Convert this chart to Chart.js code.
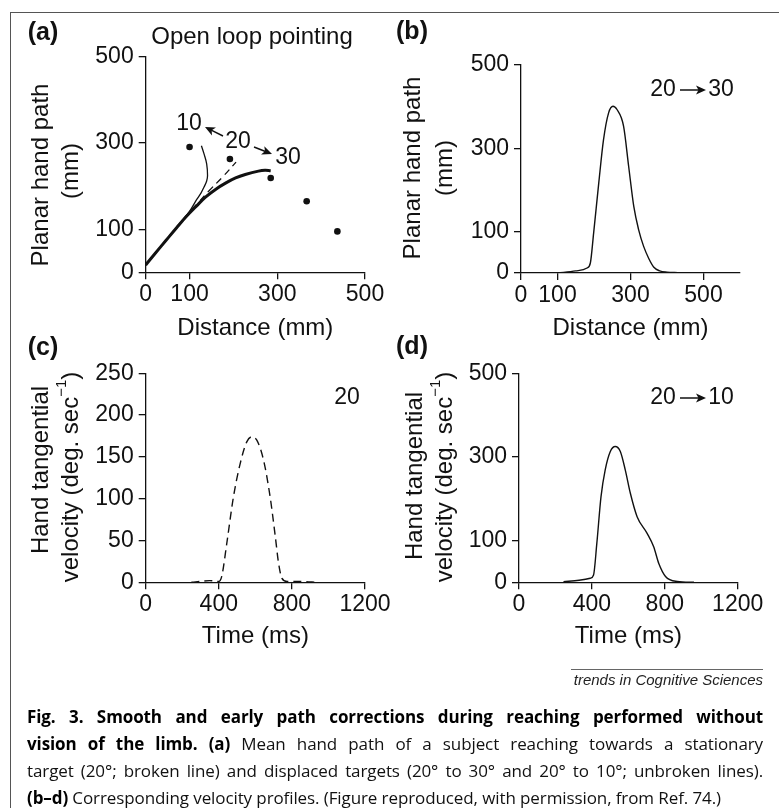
<!DOCTYPE html>
<html>
<head>
<meta charset="utf-8">
<script src="https://cdn.jsdelivr.net/npm/chart.js@4.4.1/dist/chart.umd.min.js"></script>
<style>
    html, body { margin: 0; padding: 0; background: #fff; }
    #page { position: relative; width: 779px; height: 808px; overflow: hidden; }
    #frame { position: absolute; left: 10px; top: 12px; width: 800px; height: 820px;
             border-top: 1.5px solid #555; border-left: 1.5px solid #555; }
    canvas { position: absolute; left: 0; top: 0; }
    #source { position: absolute; right: 16px; top: 669px; font: italic 15px "Liberation Sans", Arial, sans-serif;
              color: #222; border-top: 1.5px solid #666; padding-top: 1px; line-height: 17px; padding-left: 3px; }
    #caption { position: absolute; left: 27px; top: 703px; width: 736px;
               font: 17px "Open Sans", "Noto Sans", sans-serif; letter-spacing: -0.1px;
               color: #111; line-height: 27px; }
    #caption div { white-space: nowrap; text-align: justify; text-align-last: justify; }
    #caption div.last { text-align-last: left; }
    #caption b { color: #000; }
</style>
</head>
<body>
<div id="page">
    <div id="frame"></div>
    <canvas id="chartA" width="779" height="808"></canvas>
    <canvas id="chartB" width="779" height="808"></canvas>
    <canvas id="chartC" width="779" height="808"></canvas>
    <canvas id="chartD" width="779" height="808"></canvas>
    <div id="source">trends in Cognitive Sciences</div>
    <div id="caption">
        <div><b>Fig. 3. Smooth and early path corrections during reaching performed without</b></div>
        <div><b>vision of the limb. (a)</b> Mean hand path of a subject reaching towards a stationary</div>
        <div>target (20°; broken line) and displaced targets (20° to 30° and 20° to 10°; unbroken lines).</div>
        <div class="last"><b>(b–d)</b> Corresponding velocity profiles. (Figure reproduced, with permission, from Ref. 74.)</div>
    </div>
</div>
<script>
'use strict';

// (a) hand paths, mm
const targetX = [100, 192, 285, 367, 437];
const targetY = [291, 263, 219, 165, 95];
const path30X = [0, 20, 47, 70, 92, 115, 137, 160, 182, 205, 227, 257, 272, 285];
const path30Y = [17, 42, 75, 103, 129, 153, 175, 193, 207, 219, 227, 235, 237, 236];
const path10X = [0, 20, 47, 70, 88, 104, 115, 126, 133, 139, 141, 139, 133, 127];
const path10Y = [17, 42, 75, 103, 125, 148, 167, 184, 198, 212, 225, 252, 275, 294];
const path20X = [0, 20, 47, 70, 92, 120, 145, 175, 206];
const path20Y = [17, 42, 76, 104, 131, 162, 190, 221, 256];

// (b) 20 -> 30 profile
const dist30 = [100, 150, 181, 190, 199, 213, 226, 240, 252, 263, 281, 295, 309, 322, 336, 350, 364, 380, 400, 430, 465];
const vel30 = [0, 5, 12, 24, 96, 216, 320, 385, 401, 393, 353, 256, 160, 105, 64, 35, 14, 5, 2, 1, 0];

// (c) stationary 20 profile
const time20 = [250, 300, 350, 400, 416, 444, 480, 517, 553, 581, 608, 645, 681, 709, 727, 745, 773, 850, 940];
const vel20 = [0, 1, 2, 1, 7, 47, 102, 142, 168, 174, 170, 146, 102, 55, 23, 5, 1, 1, 0];

// (d) 20 -> 10 profile
const time10 = [244, 330, 391, 409, 427, 450, 473, 501, 528, 556, 583, 611, 648, 703, 739, 767, 804, 868, 960];
const vel10 = [1.6, 5, 9.6, 17.5, 93, 205, 269, 313, 325, 313, 269, 213, 157, 117, 85, 45, 14, 2, 0];

// tick labels
const pathTicks = [0, 100, 300, 500];
const distTicks = [0, 100, 300, 500];
const timeTicks = [0, 400, 800, 1200];
const vel20Ticks = [0, 50, 100, 150, 200, 250];
const vel10Ticks = [0, 100, 300, 500];

const FONT = '"Liberation Sans", Arial, Helvetica, sans-serif';
const INK = '#111';
const W = 779, H = 808;

function pts(xs, ys) {
    return xs.map((x, i) => ({ x: x, y: ys[i] }));
}

function lineSet(data, width, dash) {
    return {
        data: data,
        showLine: true,
        borderColor: INK,
        borderWidth: width,
        borderDash: dash || [],
        pointRadius: 0,
        tension: 0.4,
        fill: false
    };
}

function profileSet(data, dash) {
    let ds = lineSet(data, 1.4, dash);
    ds.cubicInterpolationMode = 'monotone';
    return ds;
}

function makeScale(min, max, ticks, horizontal, fitSize, title) {
    return {
        type: 'linear',
        min: min,
        max: max,
        afterBuildTicks: s => { s.ticks = ticks.map(v => ({ value: v })); },
        afterFit: s => {
            if (horizontal) { s.height = fitSize; } else { s.width = fitSize; }
        },
        grid: { drawOnChartArea: false, drawTicks: true, tickLength: 7, color: INK, lineWidth: 1.3 },
        border: { display: true, color: INK, width: 1.3 },
        ticks: {
            color: INK,
            font: { family: FONT, size: 23 },
            padding: horizontal ? 2 : 5,
            maxRotation: 0,
            autoSkip: false,
            callback: v => String(v)
        },
        title: title ? {
            display: true,
            text: title,
            color: INK,
            font: { family: FONT, size: 24 },
            padding: 0
        } : { display: false }
    };
}

function drawArrow(ctx, x1, y1, x2, y2) {
    let a = Math.atan2(y2 - y1, x2 - x1);
    let len = 10, half = 4.5;
    let bx = x2 - len * Math.cos(a), by = y2 - len * Math.sin(a);
    ctx.beginPath();
    ctx.moveTo(x1, y1);
    ctx.lineTo(bx + 3 * Math.cos(a), by + 3 * Math.sin(a));
    ctx.lineWidth = 1.5;
    ctx.strokeStyle = INK;
    ctx.stroke();
    ctx.beginPath();
    ctx.moveTo(x2, y2);
    ctx.lineTo(bx - half * Math.sin(a), by + half * Math.cos(a));
    ctx.lineTo(bx + 2.5 * Math.cos(a), by + 2.5 * Math.sin(a));
    ctx.lineTo(bx + half * Math.sin(a), by - half * Math.cos(a));
    ctx.closePath();
    ctx.fillStyle = INK;
    ctx.fill();
}

// segments: [{t, sup}]
function drawSegments(ctx, segs, size) {
    let supSize = Math.round(size * 0.62);
    let widths = segs.map(s => {
        ctx.font = (s.sup ? supSize : size) + 'px ' + FONT;
        return ctx.measureText(s.t).width;
    });
    let total = widths.reduce((a, b) => a + b, 0);
    let x = -total / 2;
    ctx.textAlign = 'left';
    ctx.textBaseline = 'middle';
    segs.forEach((s, i) => {
        ctx.font = (s.sup ? supSize : size) + 'px ' + FONT;
        ctx.fillText(s.t, x, s.sup ? -size * 0.38 : 0);
        x += widths[i];
    });
}

const annotations = {
    id: 'annotations',
    afterDraw(chart, args, opts) {
        let ctx = chart.ctx;
        ctx.save();
        ctx.fillStyle = INK;
        (opts.yTitle || []).forEach(l => {
            ctx.save();
            ctx.translate(l.x, l.y);
            ctx.rotate(-Math.PI / 2);
            drawSegments(ctx, l.segs, 24);
            ctx.restore();
        });
        (opts.texts || []).forEach(t => {
            ctx.font = (t.bold ? 'bold ' : '') + (t.size || 23) + 'px ' + FONT;
            ctx.textAlign = 'center';
            ctx.textBaseline = 'middle';
            ctx.fillStyle = INK;
            ctx.fillText(t.text, t.x, t.y);
        });
        (opts.arrows || []).forEach(a => drawArrow(ctx, a[0], a[1], a[2], a[3]));
        ctx.restore();
    }
};

// chart area given in page pixels; the y scale width and x scale height pin it
function makeChart(id, area, datasets, xScale, yScale, yW, xH, notes) {
    return new Chart(document.getElementById(id), {
        type: 'scatter',
        data: { datasets: datasets },
        options: {
            responsive: false,
            animation: false,
            devicePixelRatio: 1,
            layout: {
                padding: {
                    left: area.l - yW,
                    right: W - area.r,
                    top: area.t,
                    bottom: H - area.b - xH
                }
            },
            scales: { x: xScale, y: yScale },
            plugins: {
                legend: { display: false },
                tooltip: { enabled: false },
                annotations: notes
            }
        },
        plugins: [annotations]
    });
}

function start() {
    makeChart('chartA', { l: 145.7, r: 365, t: 57, b: 272.3 },
        [
            lineSet(pts(path30X, path30Y), 3),
            lineSet(pts(path10X, path10Y), 1.3),
            lineSet(pts(path20X, path20Y), 1.3, [7, 5]),
            { data: pts(targetX, targetY), showLine: false, pointRadius: 3.3,
              backgroundColor: INK, borderWidth: 0 }
        ],
        makeScale(0, 500, distTicks, true, 70, 'Distance (mm)'),
        makeScale(0, 500, pathTicks, false, 100),
        100, 70,
        {
            yTitle: [
                { x: 41, y: 175, segs: [{ t: 'Planar hand path' }] },
                { x: 71, y: 171, segs: [{ t: '(mm)' }] }
            ],
            texts: [
                { text: '(a)', x: 43, y: 33, bold: true, size: 25 },
                { text: 'Open loop pointing', x: 252, y: 37, size: 24 },
                { text: '10', x: 189, y: 124 },
                { text: '20', x: 238, y: 142 },
                { text: '30', x: 288, y: 158 }
            ],
            arrows: [[223, 136, 205, 127], [254, 147, 272, 154]]
        });

    makeChart('chartB', { l: 521, r: 740, t: 65, b: 273 },
        [profileSet(pts(dist30, vel30))],
        makeScale(0, 600, distTicks, true, 69.6, 'Distance (mm)'),
        makeScale(0, 500, pathTicks, false, 100),
        100, 69.6,
        {
            yTitle: [
                { x: 413, y: 168, segs: [{ t: 'Planar hand path' }] },
                { x: 445, y: 168, segs: [{ t: '(mm)' }] }
            ],
            texts: [
                { text: '(b)', x: 412, y: 32, bold: true, size: 25 },
                { text: '20', x: 663, y: 90 },
                { text: '30', x: 721, y: 90 }
            ],
            arrows: [[680, 90, 706, 90]]
        });

    makeChart('chartC', { l: 145.7, r: 365, t: 373.3, b: 582.3 },
        [profileSet(pts(time20, vel20), [8, 5])],
        makeScale(0, 1200, timeTicks, true, 68.1, 'Time (ms)'),
        makeScale(0, 250, vel20Ticks, false, 100),
        100, 68.1,
        {
            yTitle: [
                { x: 41, y: 470, segs: [{ t: 'Hand tangential' }] },
                { x: 71, y: 477, segs: [{ t: 'velocity (deg. sec' }, { t: '−1', sup: true }, { t: ')' }] }
            ],
            texts: [
                { text: '(c)', x: 43, y: 348, bold: true, size: 25 },
                { text: '20', x: 347, y: 398 }
            ]
        });

    makeChart('chartD', { l: 519, r: 737.7, t: 373.3, b: 582.3 },
        [profileSet(pts(time10, vel10))],
        makeScale(0, 1200, timeTicks, true, 68.1, 'Time (ms)'),
        makeScale(0, 500, vel10Ticks, false, 100),
        100, 68.1,
        {
            yTitle: [
                { x: 415, y: 476, segs: [{ t: 'Hand tangential' }] },
                { x: 445, y: 477, segs: [{ t: 'velocity (deg. sec' }, { t: '−1', sup: true }, { t: ')' }] }
            ],
            texts: [
                { text: '(d)', x: 412, y: 347, bold: true, size: 25 },
                { text: '20', x: 663, y: 398 },
                { text: '10', x: 721, y: 398 }
            ],
            arrows: [[680, 398, 706, 398]]
        });
}

start();
</script>
</body>
</html>
